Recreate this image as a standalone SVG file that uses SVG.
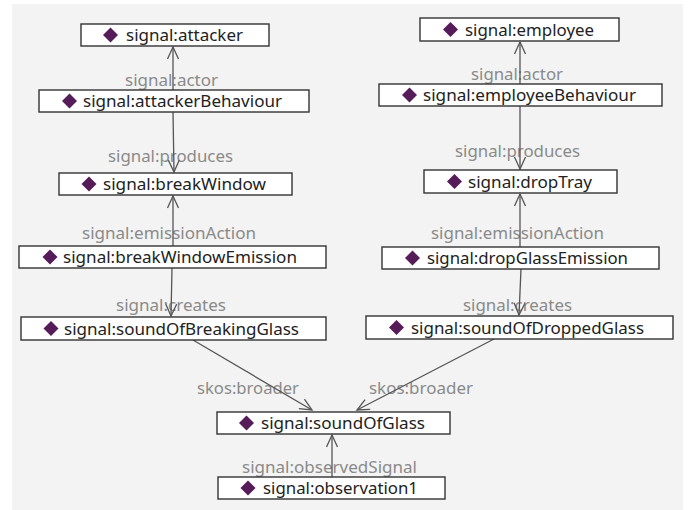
<svg xmlns="http://www.w3.org/2000/svg" width="689" height="510" viewBox="0 0 689 510">
  <defs>
    <style>
      .bg { fill: #f3f3f3; }
      .box { fill: #ffffff; stroke: #333333; stroke-width: 1.4; }
      .dia { fill: #561b59; }
      .nt { font-family: "Noto Sans", "DejaVu Sans", sans-serif; font-size: 16px; fill: #222222; }
      .lbl { font-family: "Noto Sans", "DejaVu Sans", sans-serif; font-size: 16px; fill: #8a8a8a; }
      .edge { fill: none; stroke: #555555; stroke-width: 1.3; marker-end: url(#arr); }
    </style>
    <marker id="arr" viewBox="-13 -6 15 12" refX="0" refY="0" markerWidth="15" markerHeight="12" markerUnits="userSpaceOnUse" orient="auto">
      <path d="M-12,-5.5 L0,0 L-12,5.5" fill="none" stroke="#555555" stroke-width="1.3"/>
    </marker>
    <path id="d" d="M0,-7.5 L7.5,0 L0,7.5 L-7.5,0 Z"/>
  </defs>
  <rect class="bg" x="12" y="4" width="671" height="506"/>

  <g id="connectors">
    <text class="lbl" x="125" y="86" textLength="93" lengthAdjust="spacingAndGlyphs">signal:actor</text>
    <text class="lbl" x="108" y="162" textLength="125" lengthAdjust="spacingAndGlyphs">signal:produces</text>
    <text class="lbl" x="82" y="239" textLength="174" lengthAdjust="spacingAndGlyphs">signal:emissionAction</text>
    <text class="lbl" x="116" y="311" textLength="110" lengthAdjust="spacingAndGlyphs">signal:creates</text>
    <text class="lbl" x="471" y="80" textLength="92" lengthAdjust="spacingAndGlyphs">signal:actor</text>
    <text class="lbl" x="455" y="157" textLength="125" lengthAdjust="spacingAndGlyphs">signal:produces</text>
    <text class="lbl" x="431" y="239" textLength="173" lengthAdjust="spacingAndGlyphs">signal:emissionAction</text>
    <text class="lbl" x="463" y="311" textLength="109" lengthAdjust="spacingAndGlyphs">signal:creates</text>
    <text class="lbl" x="197" y="394" textLength="102" lengthAdjust="spacingAndGlyphs">skos:broader</text>
    <text class="lbl" x="369" y="394" textLength="104" lengthAdjust="spacingAndGlyphs">skos:broader</text>
    <text class="lbl" x="242" y="473" textLength="175" lengthAdjust="spacingAndGlyphs">signal:observedSignal</text>

    <path class="edge" d="M173,90 L173,47"/>
    <path class="edge" d="M173,112 L174,172"/>
    <path class="edge" d="M173,246 L173,196"/>
    <path class="edge" d="M172,268 L171,316"/>
    <path class="edge" d="M193,340 L312,410"/>
    <path class="edge" d="M494,339 L357,410"/>
    <path class="edge" d="M332,477 L332,435"/>
    <path class="edge" d="M520,84 L520,42"/>
    <path class="edge" d="M520,106 L520,169"/>
    <path class="edge" d="M520,247 L520,194"/>
    <path class="edge" d="M521,269 L519,315"/>
  </g>

  <g id="n-attacker">
    <rect class="box" x="81" y="24" width="188" height="22"/>
    <use href="#d" class="dia" x="110.5" y="35"/>
    <text class="nt" x="126" y="41" textLength="117" lengthAdjust="spacingAndGlyphs">signal:attacker</text>
  </g>
  <g id="n-attackerBehaviour">
    <rect class="box" x="39" y="90" width="270" height="22"/>
    <use href="#d" class="dia" x="69.5" y="101"/>
    <text class="nt" x="83" y="107" textLength="199" lengthAdjust="spacingAndGlyphs">signal:attackerBehaviour</text>
  </g>
  <g id="n-breakWindow">
    <rect class="box" x="59" y="173" width="233" height="22"/>
    <use href="#d" class="dia" x="89" y="184"/>
    <text class="nt" x="103" y="190" textLength="163" lengthAdjust="spacingAndGlyphs">signal:breakWindow</text>
  </g>
  <g id="n-breakWindowEmission">
    <rect class="box" x="19" y="246" width="307" height="22"/>
    <use href="#d" class="dia" x="50" y="257"/>
    <text class="nt" x="63" y="263" textLength="234" lengthAdjust="spacingAndGlyphs">signal:breakWindowEmission</text>
  </g>
  <g id="n-soundOfBreakingGlass">
    <rect class="box" x="21" y="317" width="305" height="23"/>
    <use href="#d" class="dia" x="51" y="328.5"/>
    <text class="nt" x="64" y="334.5" textLength="235" lengthAdjust="spacingAndGlyphs">signal:soundOfBreakingGlass</text>
  </g>
  <g id="n-employee">
    <rect class="box" x="420" y="18" width="199" height="23"/>
    <use href="#d" class="dia" x="450.5" y="29.5"/>
    <text class="nt" x="465" y="35.5" textLength="129" lengthAdjust="spacingAndGlyphs">signal:employee</text>
  </g>
  <g id="n-employeeBehaviour">
    <rect class="box" x="379" y="84" width="283" height="22"/>
    <use href="#d" class="dia" x="409.5" y="95"/>
    <text class="nt" x="423" y="101" textLength="213" lengthAdjust="spacingAndGlyphs">signal:employeeBehaviour</text>
  </g>
  <g id="n-dropTray">
    <rect class="box" x="424" y="170" width="193" height="23"/>
    <use href="#d" class="dia" x="454.5" y="181.5"/>
    <text class="nt" x="468" y="187.5" textLength="124" lengthAdjust="spacingAndGlyphs">signal:dropTray</text>
  </g>
  <g id="n-dropGlassEmission">
    <rect class="box" x="382" y="247" width="277" height="22"/>
    <use href="#d" class="dia" x="412.5" y="258"/>
    <text class="nt" x="427" y="264" textLength="201" lengthAdjust="spacingAndGlyphs">signal:dropGlassEmission</text>
  </g>
  <g id="n-soundOfDroppedGlass">
    <rect class="box" x="366" y="316" width="307" height="23"/>
    <use href="#d" class="dia" x="396.5" y="327.5"/>
    <text class="nt" x="411" y="333.5" textLength="233" lengthAdjust="spacingAndGlyphs">signal:soundOfDroppedGlass</text>
  </g>
  <g id="n-soundOfGlass">
    <rect class="box" x="217" y="412" width="233" height="22"/>
    <use href="#d" class="dia" x="246.5" y="423"/>
    <text class="nt" x="261" y="429" textLength="164" lengthAdjust="spacingAndGlyphs">signal:soundOfGlass</text>
  </g>
  <g id="n-observation1">
    <rect class="box" x="218" y="477" width="227" height="22"/>
    <use href="#d" class="dia" x="248" y="488"/>
    <text class="nt" x="263" y="494" textLength="155" lengthAdjust="spacingAndGlyphs">signal:observation1</text>
  </g>
</svg>
